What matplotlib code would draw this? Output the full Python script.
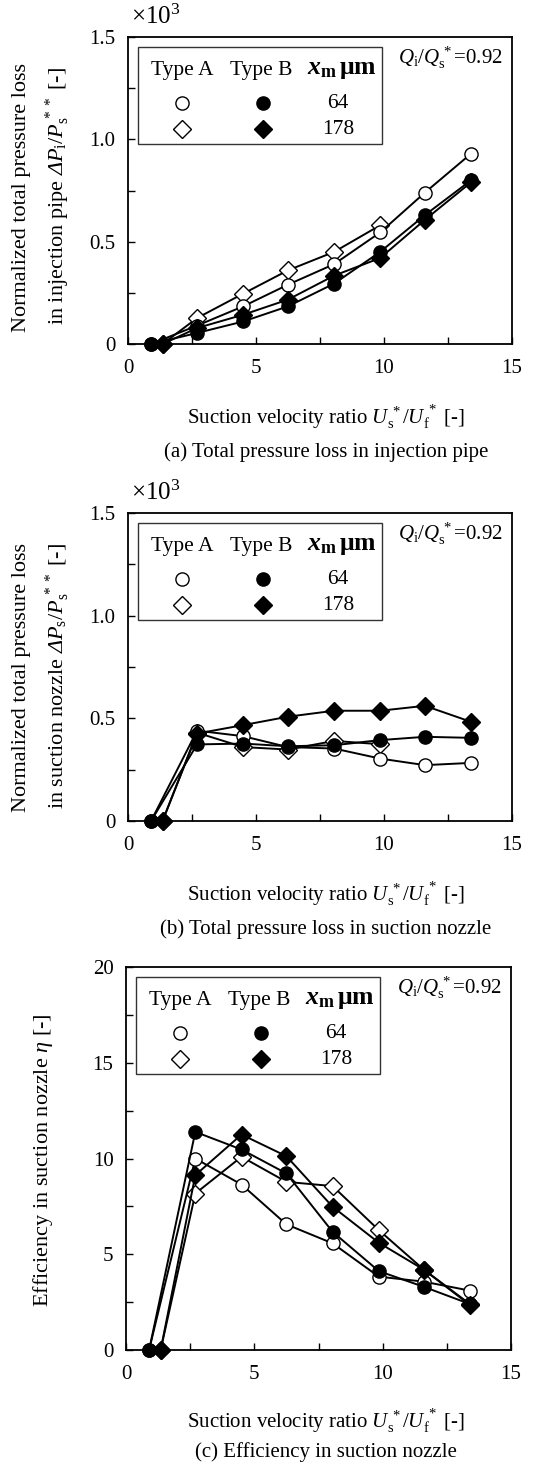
import numpy as np
import matplotlib
matplotlib.use("Agg")
import matplotlib.pyplot as plt
from matplotlib.transforms import ScaledTranslation, Affine2D
from matplotlib.patches import Rectangle

plt.rcParams['font.family'] = ['Liberation Serif', 'DejaVu Serif']
plt.rcParams['mathtext.fontset'] = 'custom'
plt.rcParams['mathtext.rm'] = 'Liberation Serif'
plt.rcParams['mathtext.it'] = 'Liberation Serif:italic'
plt.rcParams['mathtext.sf'] = 'Liberation Serif:italic'   # used for the italic capital Delta
plt.rcParams['mathtext.bf'] = 'Liberation Serif:bold'
plt.rcParams['mathtext.bfit'] = 'Liberation Serif:italic:bold'

# x positions (suction velocity ratio)
x_circ = [0.9, 2.7, 4.5, 6.25, 8.05, 9.85, 11.6, 13.4]
x_diam = [1.35, 2.7, 4.5, 6.25, 8.05, 9.85, 11.6, 13.4]

# (a) total pressure loss in injection pipe  (x10^3)
a_open_64 = [0.0, 0.09, 0.184, 0.29, 0.39, 0.545, 0.74, 0.93]
a_open_178 = [0.0, 0.127, 0.246, 0.36, 0.45, 0.58, np.nan, np.nan]
a_fill_64 = [0.0, 0.054, 0.11, 0.184, 0.295, 0.45, 0.63, 0.80]
a_fill_178 = [0.0, 0.078, 0.143, 0.217, 0.334, 0.42, 0.607, 0.79]

# (b) total pressure loss in suction nozzle  (x10^3)
b_open_64 = [0.0, 0.44, 0.413, 0.36, 0.353, 0.304, 0.272, 0.283]
b_open_178 = [0.0, 0.43, 0.36, 0.348, 0.39, 0.374, np.nan, np.nan]
b_fill_64 = [0.0, 0.373, 0.377, 0.364, 0.369, 0.394, 0.41, 0.405]
b_fill_178 = [0.0, 0.426, 0.467, 0.508, 0.537, 0.537, 0.561, 0.483]

# (c) efficiency in suction nozzle
c_open_64 = [0.0, 10.0, 8.64, 6.56, 5.57, 3.83, 3.57, 3.1]
c_open_178 = [0.0, 8.17, 10.09, 8.78, 8.56, 6.26, 4.2, 2.4]
c_fill_64 = [0.0, 11.39, 10.47, 9.22, 6.17, 4.12, 3.3, 2.4]
c_fill_178 = [0.0, 9.13, 11.25, 10.12, 7.48, 5.6, 4.2, 2.35]

W, H = 544, 1465
fig = plt.figure(figsize=(W / 100, H / 100), dpi=100)

FS = 15
LFS = 15.5


def px_axes(left, top, right, bottom):
    return fig.add_axes([left / W, 1 - bottom / H, (right - left) / W, (bottom - top) / H])


def ptrans(ax):
    # pixel coordinates measured from the top-left corner of the axes, y downwards
    return Affine2D().scale(fig.dpi / 100, -fig.dpi / 100) + ScaledTranslation(0, 1, ax.transAxes)


def draw_panel(ax, series, ymax, ystep, ylabels):
    opn, opd, fc, fd = series
    kw = dict(color='black', lw=1.4, zorder=3)
    ax.plot(x_diam, opd, marker='D', ms=9.5, mfc='white', mec='black', mew=1.0, **kw)
    ax.plot(x_circ, opn, marker='o', ms=9.5, mfc='white', mec='black', mew=1.0, **kw)
    ax.plot(x_circ, fc, marker='o', ms=9.5, mfc='black', mec='black', **kw)
    ax.plot(x_diam, fd, marker='D', ms=9.5, mfc='black', mec='black', **kw)
    for art in ax.lines:
        art.set_clip_on(False)

    ax.set_xlim(0, 15)
    ax.set_ylim(0, ymax)
    ax.set_xticks(np.arange(0, 15.1, 2.5))
    ax.set_xticklabels(['0', '', '5', '', '10', '', '15'])
    ax.set_yticks(np.arange(0, ymax + 1e-9, ystep))
    ax.set_yticklabels(ylabels)
    ax.tick_params(direction='in', length=5, width=1.0, labelsize=FS)
    ax.tick_params(axis='x', pad=11)
    ax.tick_params(axis='y', pad=9)
    for sp in ax.spines.values():
        sp.set_linewidth(1.3)

    # legend table
    tr = ptrans(ax)
    ax.add_patch(Rectangle((10, 10), 244, 97, transform=tr, fill=False, lw=1.0,
                           ec='#333333', zorder=5, clip_on=False))
    ax.text(54, 33, 'Type A', transform=tr, ha='center', va='center', fontsize=LFS)
    ax.text(133, 33, 'Type B', transform=tr, ha='center', va='center', fontsize=LFS)
    ax.text(214, 33, r'$\mathbfit{x}_{\mathbf{m}}\,\mathbf{\mu m}$', transform=tr,
            ha='center', va='center', fontsize=18.5)
    ax.plot([54], [66], marker='o', ms=9.5, mfc='white', mec='black', mew=1.0, transform=tr, clip_on=False)
    ax.plot([135], [66], marker='o', ms=9.5, mfc='black', mec='black', transform=tr, clip_on=False)
    ax.plot([54], [92], marker='D', ms=9.5, mfc='white', mec='black', mew=1.0, transform=tr, clip_on=False)
    ax.plot([135], [92], marker='D', ms=9.5, mfc='black', mec='black', transform=tr, clip_on=False)
    ax.text(210, 66, '64', transform=tr, ha='center', va='center', fontsize=LFS)
    ax.text(210, 92, '178', transform=tr, ha='center', va='center', fontsize=LFS)

    # flow ratio note
    ax.text(1, 1, r'$Q_\mathrm{i}/Q_\mathrm{s}^{\,*}$=0.92',
            transform=ax.transAxes + ScaledTranslation(-9 / 100, -21 / 100, fig.dpi_scale_trans),
            ha='right', va='center', fontsize=FS)


def ftext(x, y, s, size=FS, **kw):
    fig.text(x / W, 1 - y / H, s, fontsize=size, **kw)


xlab = r'Suction velocity ratio $U_\mathrm{s}^{\,*}/U_\mathrm{f}^{\,*}$ [-]'
YFS = 16

# (a)
ax1 = px_axes(128, 37, 512, 344)
draw_panel(ax1, (a_open_64, a_open_178, a_fill_64, a_fill_178), 1.5, 0.25,
           ['0', '', '0.5', '', '1.0', '', '1.5'])
ftext(156, 17, r'$\times10^{3}$', size=18, ha='center', va='center')
ftext(22, 198, 'Normalized total pressure loss', size=YFS, rotation=90, ha='center', va='center')
ftext(58, 196, r'in injection pipe $\mathsf{Δ}P_\mathrm{i}/P_\mathrm{s}^{\,**}$ [-]',
      size=YFS, rotation=90, ha='center', va='center')
ftext(326, 417, xlab, ha='center', va='center')
ftext(326, 452, '(a) Total pressure loss in injection pipe', ha='center', va='center')

# (b)
ax2 = px_axes(128, 513, 512, 821)
draw_panel(ax2, (b_open_64, b_open_178, b_fill_64, b_fill_178), 1.5, 0.25,
           ['0', '', '0.5', '', '1.0', '', '1.5'])
ftext(156, 493, r'$\times10^{3}$', size=18, ha='center', va='center')
ftext(22, 677, 'Normalized total pressure loss', size=YFS, rotation=90, ha='center', va='center')
ftext(58, 676, r'in suction nozzle $\mathsf{Δ}P_\mathrm{s}/P_\mathrm{s}^{\,**}$ [-]',
      size=YFS, rotation=90, ha='center', va='center')
ftext(326, 894, xlab, ha='center', va='center')
ftext(326, 929, '(b) Total pressure loss in suction nozzle', ha='center', va='center')

# (c)
ax3 = px_axes(126, 967, 511, 1350)
draw_panel(ax3, (c_open_64, c_open_178, c_fill_64, c_fill_178), 20, 2.5,
           ['0', '', '5', '', '10', '', '15', '', '20'])
ftext(43, 1160, r'Efficiency in suction nozzle $\eta$ [-]', size=YFS, rotation=90,
      ha='center', va='center')
ftext(326, 1421, xlab, ha='center', va='center')
ftext(326, 1452, '(c) Efficiency in suction nozzle', ha='center', va='center')

fig.savefig('out.png', dpi=100)
